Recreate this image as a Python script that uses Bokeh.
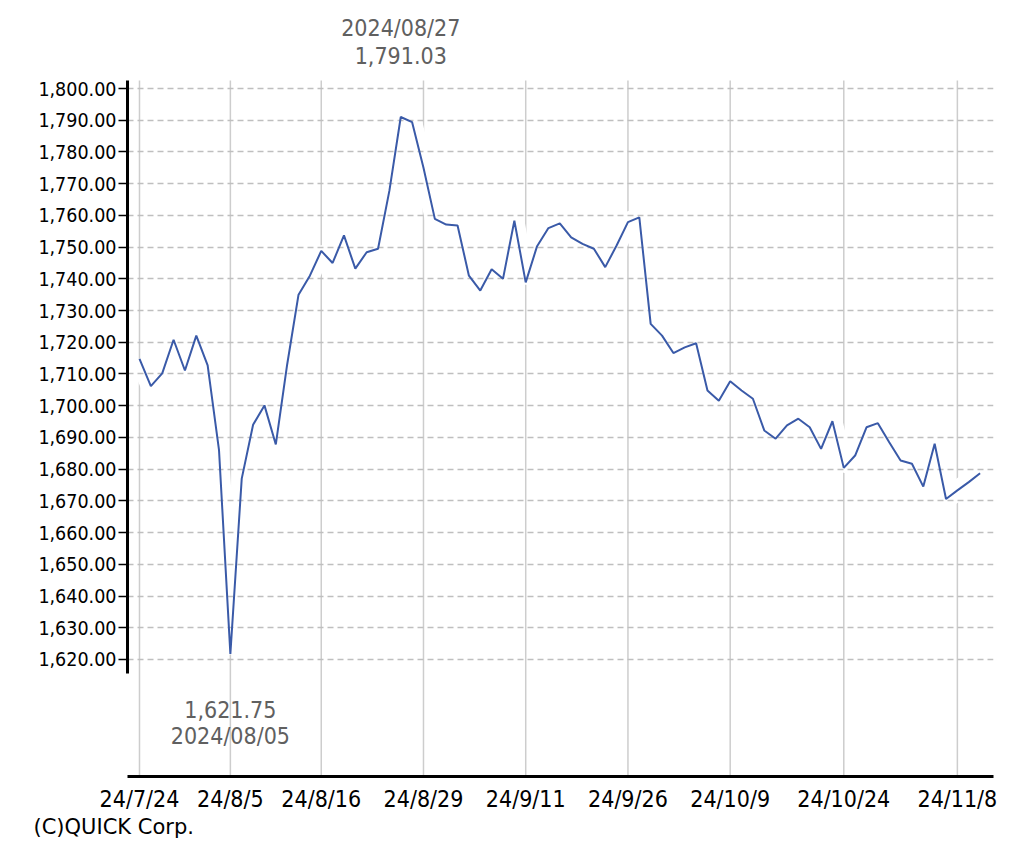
from bokeh.plotting import figure
from bokeh.models import Range1d, FixedTicker, NumeralTickFormatter, Label, Title
from bokeh.embed import file_html
from bokeh.resources import INLINE

# ---- data ----
dates = [
    "2024/07/24", "2024/07/25", "2024/07/26", "2024/07/29", "2024/07/30", "2024/07/31",
    "2024/08/01", "2024/08/02", "2024/08/05", "2024/08/06", "2024/08/07", "2024/08/08",
    "2024/08/09", "2024/08/13", "2024/08/14", "2024/08/15", "2024/08/16", "2024/08/19",
    "2024/08/20", "2024/08/21", "2024/08/22", "2024/08/23", "2024/08/26", "2024/08/27",
    "2024/08/28", "2024/08/29", "2024/08/30", "2024/09/02", "2024/09/03", "2024/09/04",
    "2024/09/05", "2024/09/06", "2024/09/09", "2024/09/10", "2024/09/11", "2024/09/12",
    "2024/09/13", "2024/09/17", "2024/09/18", "2024/09/19", "2024/09/20", "2024/09/24",
    "2024/09/25", "2024/09/26", "2024/09/27", "2024/09/30", "2024/10/01", "2024/10/02",
    "2024/10/03", "2024/10/04", "2024/10/07", "2024/10/08", "2024/10/09", "2024/10/10",
    "2024/10/11", "2024/10/15", "2024/10/16", "2024/10/17", "2024/10/18", "2024/10/21",
    "2024/10/22", "2024/10/23", "2024/10/24", "2024/10/25", "2024/10/28", "2024/10/29",
    "2024/10/30", "2024/10/31", "2024/11/01", "2024/11/05", "2024/11/06", "2024/11/07",
    "2024/11/08", "2024/11/11", "2024/11/12",
]
values = [
    1714.8, 1706.2, 1710.2, 1720.8, 1711.1, 1722.1, 1712.7, 1686.0, 1621.75, 1677.0,
    1694.0, 1700.1, 1687.8, 1713.0, 1735.0, 1741.0, 1748.8, 1745.0, 1753.7, 1743.2,
    1748.4, 1749.5, 1767.8, 1791.03, 1789.4, 1775.0, 1758.9, 1757.1, 1756.8, 1741.0,
    1736.3, 1743.0, 1740.0, 1758.3, 1738.9, 1750.3, 1756.0, 1757.5, 1753.1, 1751.0,
    1749.5, 1743.7, 1750.5, 1757.9, 1759.4, 1725.8, 1722.1, 1716.6, 1718.4, 1719.7,
    1704.8, 1701.6, 1707.7, 1704.8, 1702.2, 1692.2, 1689.6, 1693.8, 1695.9, 1693.2,
    1686.4, 1695.1, 1680.4, 1684.3, 1693.2, 1694.5, 1688.5, 1682.7, 1681.7, 1674.5,
    1688.0, 1670.6, 1673.3, 1675.9, 1678.7,
]
x_tick_labels = ["24/7/24", "24/8/5", "24/8/16", "24/8/29", "24/9/11",
                 "24/9/26", "24/10/9", "24/10/24", "24/11/8"]
y_ticks = [1620, 1630, 1640, 1650, 1660, 1670, 1680, 1690, 1700, 1710,
           1720, 1730, 1740, 1750, 1760, 1770, 1780, 1790, 1800]
copyright_text = "(C)QUICK Corp."

# axis extents
y_lo, y_hi = 1583.1, 1824.6          # visible range (top part holds the max label)
y_axis_lo, y_axis_hi = 1615.6, 1802.5  # extent of the y axis line / grid
x_lo, x_hi = -1.056, 75.18


def short(d):
    y, m, dd = d.split("/")
    return f"{y[2:]}/{int(m)}/{int(dd)}"


xs = list(range(len(values)))
short_dates = [short(d) for d in dates]
x_ticks = [short_dates.index(t) for t in x_tick_labels]
i_max = max(xs, key=lambda i: values[i])
i_min = min(xs, key=lambda i: values[i])

FONT = "DejaVu Sans Condensed"
ANN_COLOR = "#606060"

p = figure(width=1030, height=844, output_backend="svg", toolbar_location=None,
           x_range=Range1d(x_lo, x_hi), y_range=Range1d(y_lo, y_hi),
           min_border_left=127, min_border_right=37, min_border_top=10,
           min_border_bottom=68)
p.outline_line_color = None
p.background_fill_color = "white"
p.border_fill_color = "white"
p.xgrid.grid_line_color = None
p.ygrid.grid_line_color = None

# vertical grid lines (only up to top of the y axis)
p.segment(x0=x_ticks, y0=[y_lo] * len(x_ticks), x1=x_ticks, y1=[y_axis_hi] * len(x_ticks),
          line_color="#cdcdcd", line_width=1.5)
# white halo under line, dashed horizontals, then the line
p.line(xs, values, line_color="white", line_width=20)
p.hspan(y=y_ticks, line_color="#bfbfbf", line_width=1.5, line_dash="6 4")
p.line(xs, values, line_color="#3a5aa8", line_width=2)

# x axis
p.xaxis.ticker = FixedTicker(ticks=x_ticks)
p.xaxis.major_label_overrides = {i: t for i, t in zip(x_ticks, x_tick_labels)}
p.xaxis.axis_line_width = 3
p.xaxis.axis_line_color = "black"
p.xaxis.major_tick_line_color = None
p.xaxis.minor_tick_line_color = None
p.xaxis.major_tick_out = 0
p.xaxis.major_label_standoff = 9
p.xaxis.major_label_text_font = FONT
p.xaxis.major_label_text_font_size = "23px"
p.xaxis.major_label_text_color = "black"

# y axis
p.yaxis.ticker = FixedTicker(ticks=y_ticks)
p.yaxis.formatter = NumeralTickFormatter(format="0,0.00")
p.yaxis.bounds = (y_axis_lo, y_axis_hi)
p.yaxis.axis_line_width = 3
p.yaxis.axis_line_color = "black"
p.yaxis.major_tick_out = 9
p.yaxis.major_tick_in = 0
p.yaxis.major_tick_line_width = 1.5
p.yaxis.minor_tick_line_color = None
p.yaxis.major_label_standoff = 2
p.yaxis.major_label_text_font = FONT
p.yaxis.major_label_text_font_size = "19.5px"
p.yaxis.major_label_text_color = "black"


def ann(i, text, baseline, dy):
    p.add_layout(Label(x=i, y=values[i], text=text, text_align="center",
                       text_baseline=baseline, y_offset=dy, text_font=FONT,
                       text_font_size="23px", text_color=ANN_COLOR))


# max / min annotations
ann(i_max, f"{values[i_max]:,.2f}", "bottom", 53)
ann(i_max, dates[i_max], "bottom", 76)
ann(i_min, f"{values[i_min]:,.2f}", "top", -47)
ann(i_min, dates[i_min], "top", -69)

# copyright
p.add_layout(Title(text=copyright_text, align="left", offset=-94, standoff=-4,
                   text_font="DejaVu Sans", text_font_size="21px",
                   text_font_style="normal", text_color="black"), "below")

open("out.html", "w").write(file_html(p, INLINE))
